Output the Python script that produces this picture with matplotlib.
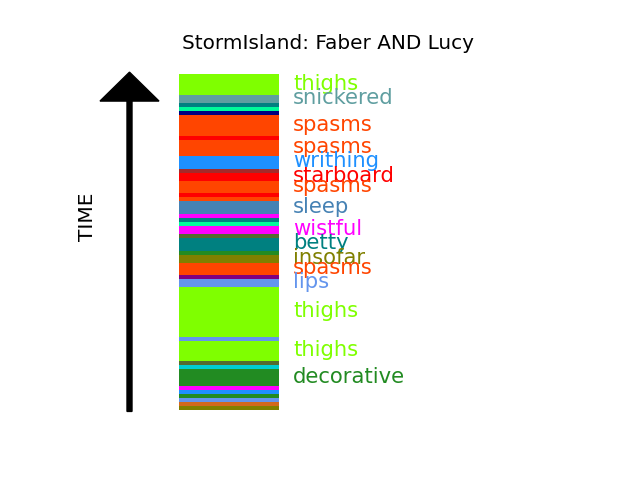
import matplotlib
matplotlib.use("Agg")
import matplotlib.pyplot as plt
import numpy as np

# segments listed from top (latest) to bottom (earliest)
durations = [5, 2, 1, 1, 1, 5, 1, 4, 3, 1, 2, 3, 1, 1, 3, 1, 1, 1, 2, 1,
             3, 1, 2, 3, 1, 2, 12, 1, 5, 1, 1, 4, 1, 1, 1, 1, 1, 1]
colors = ["chartreuse", "cadetblue", "teal", "mediumspringgreen", "navy",
          "orangered", "red", "orangered", "dodgerblue", "brown", "red",
          "orangered", "red", "orangered", "steelblue", "magenta", "teal",
          "mediumspringgreen", "magenta", "darkolivegreen", "teal",
          "forestgreen", "olive", "orangered", "purple", "cornflowerblue",
          "chartreuse", "cornflowerblue", "chartreuse", "darkolivegreen",
          "darkturquoise", "forestgreen", "magenta", "dodgerblue",
          "forestgreen", "cornflowerblue", "chocolate", "olive"]
labels = ["thighs", "snickered", "", "", "", "spasms", "", "spasms",
          "writhing", "", "starboard", "spasms", "", "", "sleep", "", "", "",
          "wistful", "", "betty", "", "insofar", "spasms", "", "lips",
          "thighs", "", "thighs", "", "", "decorative", "", "", "", "", "", ""]

plt.rcParams['font.size'] = 12

fig = plt.figure(figsize=(6.4, 4.8), dpi=100)
ax = fig.add_subplot(111)

dur = np.array(durations, dtype=float)
total = dur.sum()
tops = total - np.concatenate([[0], np.cumsum(dur)[:-1]])
bottoms = tops - dur

ax.barh(bottoms, dur * 0 + 100, height=dur, left=99, align='edge',
        color=colors, linewidth=0)

for b, d, c, lab in zip(bottoms, dur, colors, labels):
    if d >= 2 and lab:
        ax.text(213, b + d / 2 + 0.25, lab, color=c, fontsize=15.2, va='center', ha='left')

ax.arrow(49.5, -0.25, 0, 82.8, width=5, head_width=59, head_length=7.06,
         length_includes_head=True, color='k')
ax.text(7.5, 47.2, "TIME", rotation=90, va='center', ha='center', fontsize='large')

ax.set_xlim(0, 496)
ax.set_ylim(-4.1, 86.1)
ax.axis('off')
ax.set_title("StormIsland: Faber AND Lucy")

plt.savefig("out.png")
